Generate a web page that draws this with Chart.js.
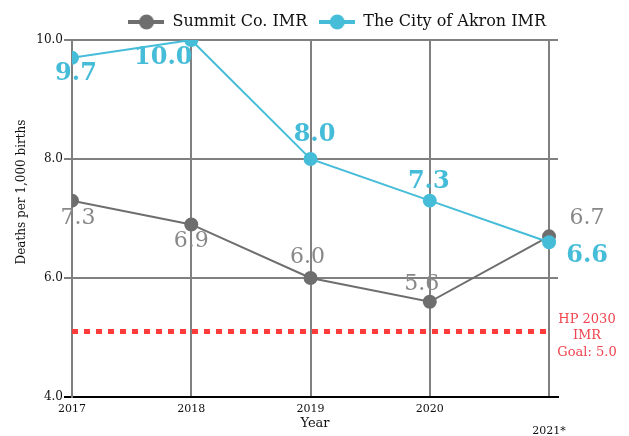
<!DOCTYPE html>
<html>
<head>
<meta charset="utf-8">
<title>IMR</title>
<script src="https://cdn.jsdelivr.net/npm/chart.js@4.4.1/dist/chart.umd.min.js"></script>
<style>
    body { margin: 0; background: #fff; }
    #wrap { width: 629px; height: 436px; position: relative; }
</style>
</head>
<body>
<div id="wrap"><canvas id="imrChart"></canvas></div>
<script>
    // data
    var years = [2017, 2018, 2019, 2020, 2021];
    var yearLabels = ['2017', '2018', '2019', '2020', '2021*'];
    var summitImr = [7.3, 6.9, 6.0, 5.6, 6.7];
    var akronImr = [9.7, 10.0, 8.0, 7.3, 6.6];
    var goalImr = [5.1, 5.1, 5.1, 5.1, 5.1];
    var yTicks = [4, 6, 8, 10];

    var SERIF = '"DejaVu Serif", "Liberation Serif", serif';
    var BLUE = '#45bcd8';
    var GRAY = '#6e6e6e';
    var GRID = '#808080';
    var RED = '#ff3b3b';

    // where each value label sits relative to its point
    var akronOffsets = [[4, 16], [-28, 18], [4, -24], [-1, -19], [38, 13]];
    var summitOffsets = [[6, 18], [0, 17], [-3, -21], [-8, -18], [38, -18]];

    function legendMarker(color) {
        var c = document.createElement('canvas');
        c.width = 36; c.height = 18;
        var g = c.getContext('2d');
        g.strokeStyle = color;
        g.lineWidth = 4;
        g.beginPath(); g.moveTo(0, 9); g.lineTo(36, 9); g.stroke();
        g.fillStyle = color;
        g.beginPath(); g.arc(18, 9, 7.5, 0, Math.PI * 2); g.fill();
        return c;
    }
    var markers = [legendMarker(BLUE), legendMarker(GRAY)];

    function pts(vals) {
        return years.map(function (y, i) { return { x: y, y: vals[i] }; });
    }

    var labelPlugin = {
        id: 'labels',
        afterDatasetsDraw: function (chart) {
            var ctx = chart.ctx;
            ctx.save();
            ctx.textAlign = 'center';
            ctx.textBaseline = 'middle';
            var sets = [
                { idx: 0, vals: akronImr, off: akronOffsets, font: 'bold 24px ' + SERIF, color: BLUE },
                { idx: 1, vals: summitImr, off: summitOffsets, font: '22px ' + SERIF, color: '#888888' }
            ];
            sets.forEach(function (s) {
                var meta = chart.getDatasetMeta(s.idx);
                ctx.font = s.font;
                ctx.fillStyle = s.color;
                meta.data.forEach(function (el, i) {
                    ctx.fillText(s.vals[i].toFixed(1), el.x + s.off[i][0], el.y + s.off[i][1]);
                });
            });

            // goal note
            var area = chart.chartArea;
            var gy = chart.scales.y.getPixelForValue(goalImr[0]);
            ctx.font = '13px ' + SERIF;
            ctx.fillStyle = '#f0454f';
            ['HP 2030', 'IMR', 'Goal: 5.0'].forEach(function (t, i) {
                ctx.fillText(t, area.right + 29, gy - 12 + i * 16.5);
            });

            // y title
            ctx.save();
            ctx.translate(22, 192);
            ctx.rotate(-Math.PI / 2);
            ctx.font = '12px ' + SERIF;
            ctx.fillStyle = '#111';
            ctx.fillText('Deaths per 1,000 births', 0, 0);
            ctx.restore();
            ctx.restore();
        }
    };

    var config = {
        type: 'line',
        data: {
            datasets: [
                {
                    label: 'The City of Akron IMR',
                    data: pts(akronImr),
                    borderColor: BLUE,
                    backgroundColor: BLUE,
                    borderWidth: 2,
                    pointRadius: 6,
                    pointHoverRadius: 6,
                    tension: 0
                },
                {
                    label: 'Summit Co. IMR',
                    data: pts(summitImr),
                    borderColor: GRAY,
                    backgroundColor: GRAY,
                    borderWidth: 2,
                    pointRadius: 6,
                    pointHoverRadius: 6,
                    tension: 0
                },
                {
                    label: 'goal',
                    data: pts(goalImr),
                    borderColor: RED,
                    borderWidth: 5,
                    borderDash: [6, 6],
                    borderCapStyle: 'butt',
                    pointRadius: 0,
                    tension: 0
                }
            ]
        },
        options: {
            responsive: true,
            maintainAspectRatio: false,
            animation: false,
            layout: { padding: { top: 2, right: 71, bottom: 0, left: 0 } },
            plugins: {
                tooltip: { enabled: false },
                legend: {
                    reverse: true,
                    align: 'end',
                    labels: {
                        usePointStyle: true,
                        pointStyleWidth: 36,
                        padding: 12,
                        color: '#111',
                        font: { family: SERIF, size: 16 },
                        filter: function (item) { return item.datasetIndex < 2; },
                        generateLabels: function (chart) {
                            var items = Chart.defaults.plugins.legend.labels.generateLabels(chart);
                            items.forEach(function (it) {
                                if (it.datasetIndex < 2) it.pointStyle = markers[it.datasetIndex];
                            });
                            return items;
                        }
                    }
                }
            },
            scales: {
                x: {
                    type: 'linear',
                    min: years[0],
                    max: 2021.075,
                    afterBuildTicks: function (s) {
                        s.ticks = years.map(function (v) { return { value: v }; });
                    },
                    afterFit: function (s) { s.height = 39; },
                    grid: { color: GRID, lineWidth: 2, drawTicks: false },
                    border: { color: '#000', width: 2 },
                    ticks: {
                        autoSkip: false,
                        maxRotation: 0,
                        padding: 7,
                        color: '#111',
                        font: { family: SERIF, size: 11, lineHeight: '11px' },
                        callback: function (v) {
                            var i = years.indexOf(v);
                            return i === years.length - 1 ? ['', '', yearLabels[i]] : yearLabels[i];
                        }
                    },
                    title: {
                        display: true,
                        text: 'Year',
                        color: '#111',
                        padding: { top: 0, bottom: 5 },
                        font: { family: SERIF, size: 13 }
                    }
                },
                y: {
                    min: yTicks[0],
                    max: yTicks[yTicks.length - 1],
                    afterBuildTicks: function (s) {
                        s.ticks = yTicks.map(function (v) { return { value: v }; });
                    },
                    afterFit: function (s) { s.width = 72; },
                    grid: {
                        color: GRID,
                        lineWidth: 2,
                        tickLength: 8,
                        tickColor: function (c) { return c.tick && c.tick.value === 4 ? '#000' : GRID; }
                    },
                    border: { color: GRID, width: 2 },
                    ticks: {
                        padding: 1,
                        color: '#111',
                        font: { family: SERIF, size: 12 },
                        callback: function (v) { return v.toFixed(1); }
                    }
                }
            }
        },
        plugins: [labelPlugin]
    };

    var imrChart = new Chart(document.getElementById('imrChart').getContext('2d'), config);
</script>
</body>
</html>
